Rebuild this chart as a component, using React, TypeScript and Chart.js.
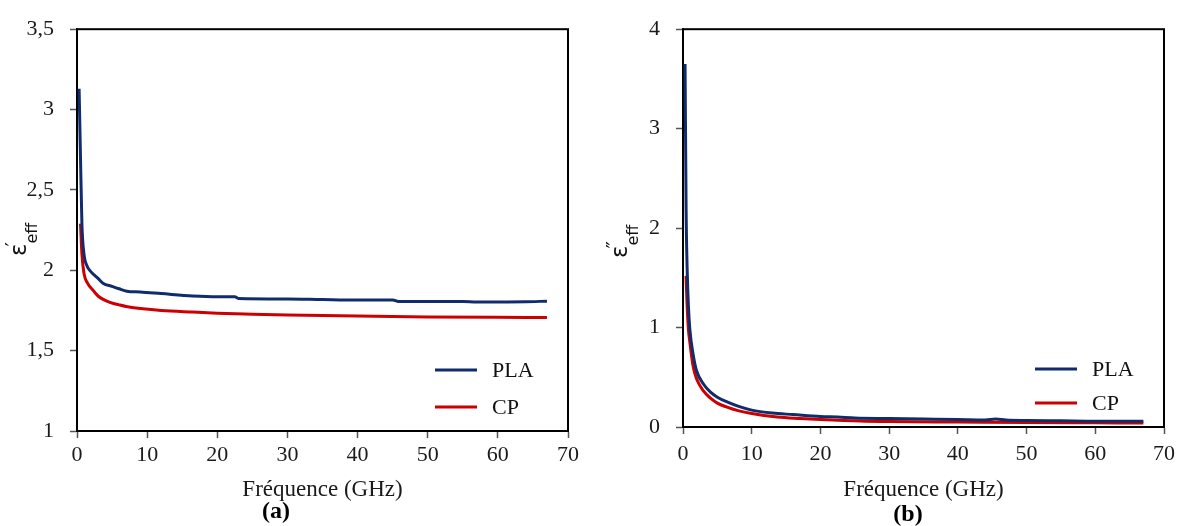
import React, { useEffect, useRef } from "react";
import { Chart, registerables } from "chart.js";
Chart.register(...registerables);

// ---- Data (a): real part of effective permittivity ----
const freqPLA_a = [0.3, 0.5, 0.7, 1.0, 1.4, 2, 3, 3.7, 5, 6, 7.1, 9, 12, 16.5, 20, 22.5, 23, 30, 35, 40, 44, 45, 46, 50, 55, 57, 60, 64, 67];
const epsPLA_a = [3.13, 2.7, 2.29, 2.1, 2.03, 1.99, 1.95, 1.92, 1.9, 1.885, 1.87, 1.865, 1.855, 1.84, 1.835, 1.835, 1.825, 1.822, 1.818, 1.815, 1.815, 1.815, 1.805, 1.806, 1.806, 1.802, 1.803, 1.804, 1.808];
const freqCP_a = [0.5, 0.7, 1.0, 1.5, 2.3, 3, 4.7, 6, 7, 9.4, 12, 16.5, 20, 25, 30, 40, 50, 60, 67];
const epsCP_a = [2.29, 2.1, 1.98, 1.92, 1.875, 1.84, 1.8, 1.785, 1.775, 1.76, 1.75, 1.74, 1.733, 1.727, 1.722, 1.715, 1.71, 1.707, 1.706];

// ---- Data (b): imaginary part of effective permittivity ----
const freqPLA_b = [0.3, 0.45, 0.6, 0.8, 1.0, 1.5, 2, 3, 4, 5, 6.5, 8, 10, 13, 16, 20, 22.5, 25, 30, 35, 40, 44, 45.5, 47, 50, 55, 60, 64, 67];
const epsPLA_b = [3.65, 2.2, 1.6, 1.2, 0.98, 0.72, 0.56, 0.43, 0.35, 0.3, 0.25, 0.21, 0.17, 0.14, 0.125, 0.105, 0.1, 0.09, 0.085, 0.08, 0.075, 0.07, 0.08, 0.07, 0.065, 0.062, 0.058, 0.058, 0.058];
const freqCP_b = [0.44, 0.6, 0.77, 1.0, 1.5, 2, 3, 4, 5, 6.4, 8, 10, 13.7, 17, 20, 25.8, 30, 40, 50, 60, 67];
const epsCP_b = [1.52, 1.22, 1.0, 0.85, 0.6, 0.48, 0.36, 0.29, 0.24, 0.2, 0.165, 0.135, 0.1, 0.085, 0.075, 0.06, 0.055, 0.05, 0.045, 0.042, 0.04];

const seriesNames = ["PLA", "CP"];
const xAxisTitle = "Fréquence (GHz)";

const BLUE = "#102c6c";
const RED = "#cc0000";
const SERIF = "'Liberation Serif', 'Times New Roman', serif";

const zip = (xs: number[], ys: number[]) => xs.map((x, i) => ({ x, y: ys[i] }));

type PanelCfg = {
  left: number;
  width: number;
  plotLeft: number;
  plotTop: number;
  padRight: number;
  xAxisHeight: number;
  xTickPad: number;
  yMin: number;
  yMax: number;
  yStep: number;
  prime: string;
  label: string;
  pla: { x: number; y: number }[];
  cp: { x: number; y: number }[];
  legendX: number;
  legendY: [number, number];
  yTitle: [number, number];
  labelPos: [number, number];
};

function Panel({ cfg }: { cfg: PanelCfg }) {
  const ref = useRef<HTMLCanvasElement>(null);
  useEffect(() => {
    if (!ref.current) return;
    const decor = {
      id: "decor",
      beforeDatasetsDraw(chart: any) {
        const { ctx, chartArea: a } = chart;
        ctx.save();
        ctx.strokeStyle = "#000";
        ctx.lineWidth = 2;
        ctx.strokeRect(a.left, a.top, a.right - a.left, a.bottom - a.top);
        ctx.restore();
      },
      afterDraw(chart: any) {
        const { ctx } = chart;
        ctx.save();
        // legend
        const cols = [BLUE, RED];
        seriesNames.forEach((n, i) => {
          const y = cfg.legendY[i];
          ctx.strokeStyle = cols[i];
          ctx.lineWidth = 3;
          ctx.beginPath();
          ctx.moveTo(cfg.legendX, y);
          ctx.lineTo(cfg.legendX + 42, y);
          ctx.stroke();
          ctx.fillStyle = "#111";
          ctx.font = `22px ${SERIF}`;
          ctx.textBaseline = "middle";
          ctx.textAlign = "left";
          ctx.fillText(n, cfg.legendX + 57, y + 1);
        });
        // y title: epsilon with prime and subscript eff
        ctx.translate(cfg.yTitle[0], cfg.yTitle[1]);
        ctx.rotate(-Math.PI / 2);
        ctx.fillStyle = "#111";
        ctx.textBaseline = "alphabetic";
        ctx.textAlign = "left";
        ctx.font = "23px 'DejaVu Sans', sans-serif";
        ctx.fillText("ε", 0, 0);
        const w = ctx.measureText("ε").width;
        ctx.font = "20px 'DejaVu Sans', sans-serif";
        ctx.fillText(cfg.prime, w - 3, -7);
        ctx.font = "16px 'DejaVu Sans', sans-serif";
        ctx.fillText("eff", w, 11);
        ctx.restore();
        // panel label
        ctx.save();
        ctx.fillStyle = "#000";
        ctx.font = `bold 24px ${SERIF}`;
        ctx.textAlign = "center";
        ctx.textBaseline = "middle";
        ctx.fillText(cfg.label, cfg.labelPos[0], cfg.labelPos[1]);
        ctx.restore();
      },
    };
    const chart = new Chart(ref.current, {
      type: "line",
      data: {
        datasets: [
          { label: seriesNames[0], data: cfg.pla, borderColor: BLUE, borderWidth: 3, pointRadius: 0, cubicInterpolationMode: "monotone" },
          { label: seriesNames[1], data: cfg.cp, borderColor: RED, borderWidth: 3, pointRadius: 0, cubicInterpolationMode: "monotone" },
        ],
      },
      options: {
        animation: false,
        responsive: false,
        layout: { padding: { left: 0, top: cfg.plotTop, right: cfg.padRight, bottom: 0 } },
        plugins: { legend: { display: false }, tooltip: { enabled: false } },
        scales: {
          x: {
            type: "linear",
            min: 0,
            max: 70,
            afterFit: (s: any) => { s.height = cfg.xAxisHeight; },
            ticks: { stepSize: 10, color: "#1a1a1a", font: { family: SERIF, size: 22 }, padding: cfg.xTickPad, maxRotation: 0 },
            grid: { drawOnChartArea: false, drawTicks: true, tickLength: 7, tickColor: "#555", tickWidth: 1.5 },
            border: { display: true, color: "#000", width: 2 },
            title: { display: true, text: xAxisTitle, color: "#1a1a1a", font: { family: SERIF, size: 23 }, padding: { top: 0, bottom: 22 } },
          },
          y: {
            type: "linear",
            min: cfg.yMin,
            max: cfg.yMax,
            afterFit: (s: any) => { s.width = cfg.plotLeft; },
            ticks: {
              stepSize: cfg.yStep,
              color: "#1a1a1a",
              font: { family: SERIF, size: 22 },
              padding: 16,
              callback: (v: any) => String(v).replace(".", ","),
            },
            grid: { drawOnChartArea: false, drawTicks: true, tickLength: 7, tickColor: "#555", tickWidth: 1.5 },
            border: { display: true, color: "#000", width: 2 },
          },
        },
      } as any,
      plugins: [decor],
    });
    return () => chart.destroy();
  }, [cfg]);
  return (
    <canvas
      ref={ref}
      width={cfg.width}
      height={526}
      style={{ position: "absolute", left: cfg.left, top: 0, width: cfg.width, height: 526 }}
    />
  );
}

const panelA: PanelCfg = {
  left: 0, width: 600, plotLeft: 77, plotTop: 17, padRight: 32, xAxisHeight: 95, xTickPad: 4,
  yMin: 1, yMax: 3.5, yStep: 0.5, prime: "′", label: "(a)",
  pla: zip(freqPLA_a, epsPLA_a), cp: zip(freqCP_a, epsCP_a),
  legendX: 435, legendY: [370, 407], yTitle: [26, 256], labelPos: [276, 512],
};
const panelB: PanelCfg = {
  left: 600, width: 589, plotLeft: 83, plotTop: 26, padRight: 25, xAxisHeight: 99, xTickPad: 7,
  yMin: 0, yMax: 4, yStep: 1, prime: "″", label: "(b)",
  pla: zip(freqPLA_b, epsPLA_b), cp: zip(freqCP_b, epsCP_b),
  legendX: 435, legendY: [369, 403], yTitle: [27, 258], labelPos: [308, 515],
};

export default function App() {
  return (
    <div style={{ position: "fixed", left: 0, top: 0, width: 1189, height: 526, background: "#fff" }}>
      <Panel cfg={panelA} />
      <Panel cfg={panelB} />
    </div>
  );
}
